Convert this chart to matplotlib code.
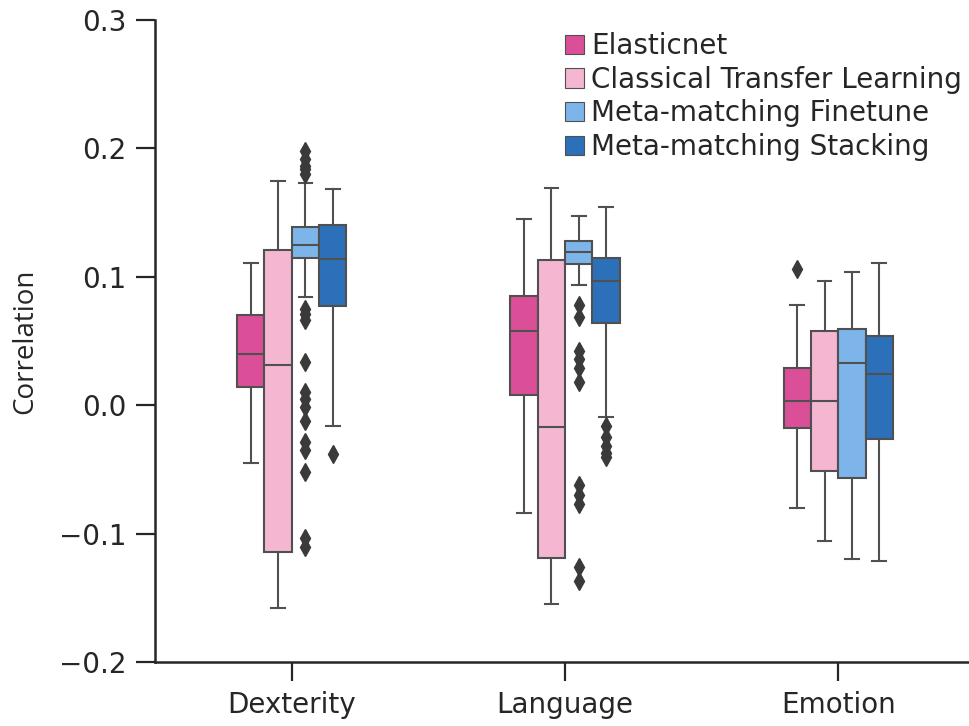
import numpy as np
import matplotlib
matplotlib.use("Agg")
import matplotlib.pyplot as plt
from matplotlib.patches import Patch

# behaviour domains on the x axis and the four prediction approaches
domains = ["Dexterity", "Language", "Emotion"]
models = ["Elasticnet", "Classical Transfer Learning",
          "Meta-matching Finetune", "Meta-matching Stacking"]
colors = ["#DA4F98", "#F4B6D1", "#7DB5EB", "#2C70B9"]

# box statistics, one row per model, one column per domain
whis_lo = [[-0.045, -0.084, -0.080],
           [-0.158, -0.155, -0.106],
           [0.084, 0.094, -0.120],
           [-0.016, -0.009, -0.121]]
q1 = [[0.014, 0.008, -0.018],
      [-0.114, -0.119, -0.051],
      [0.115, 0.110, -0.057],
      [0.077, 0.064, -0.026]]
med = [[0.040, 0.058, 0.003],
       [0.031, -0.017, 0.003],
       [0.125, 0.119, 0.033],
       [0.114, 0.097, 0.024]]
q3 = [[0.070, 0.085, 0.029],
      [0.121, 0.113, 0.058],
      [0.139, 0.128, 0.059],
      [0.140, 0.115, 0.054]]
whis_hi = [[0.111, 0.145, 0.078],
           [0.175, 0.169, 0.097],
           [0.173, 0.147, 0.104],
           [0.168, 0.154, 0.111]]
fliers = [
    [[], [], [0.106]],
    [[], [], []],
    [[0.198, 0.192, 0.186, 0.184, 0.180, 0.075, 0.071, 0.066, 0.034,
      0.010, 0.005, -0.001, -0.012, -0.029, -0.035, -0.052, -0.103, -0.110],
     [0.078, 0.069, 0.042, 0.036, 0.029, 0.018, -0.062, -0.070, -0.077,
      -0.126, -0.137],
     []],
    [[-0.038], [-0.016, -0.025, -0.032, -0.037, -0.040], []],
]

box_w = 0.1
offsets = [-0.15, -0.05, 0.05, 0.15]
edge = "#505050"
ink = "#262626"

plt.rcParams["font.family"] = "DejaVu Sans"
fig = plt.figure(figsize=(9.7, 7.26), dpi=100)
ax = fig.add_axes([0.16, 0.088, 0.845, 0.8845])

for m in range(len(models)):
    stats = []
    for g in range(len(domains)):
        stats.append(dict(whislo=whis_lo[m][g], q1=q1[m][g], med=med[m][g],
                          q3=q3[m][g], whishi=whis_hi[m][g],
                          fliers=fliers[m][g]))
    pos = np.arange(len(domains)) + offsets[m]
    ax.bxp(stats, positions=pos, widths=box_w, patch_artist=True,
           manage_ticks=False,
           boxprops=dict(facecolor=colors[m], edgecolor=edge, linewidth=1.5),
           medianprops=dict(color=edge, linewidth=1.5),
           whiskerprops=dict(color=edge, linewidth=1.5),
           capprops=dict(color=edge, linewidth=1.5),
           flierprops=dict(marker="d", markersize=9, markerfacecolor="#3a3a3a",
                           markeredgecolor="#3a3a3a"))

ax.set_xlim(-0.5, 2.5)
ax.set_ylim(-0.2, 0.3)
ax.set_xticks(range(len(domains)))
ax.set_xticklabels(domains)
ax.set_yticks([-0.2, -0.1, 0.0, 0.1, 0.2, 0.3])
ax.set_yticklabels(["\u22120.2", "\u22120.1", "0.0", "0.1", "0.2", "0.3"])
ax.tick_params(labelsize=20, length=14, width=1.6, color=ink,
               labelcolor=ink, pad=7)
ax.set_ylabel("Correlation", fontsize=20, family="Open Sans",
              color=ink, labelpad=14)
for side in ["top", "right"]:
    ax.spines[side].set_visible(False)
for side in ["left", "bottom"]:
    ax.spines[side].set_linewidth(1.8)
    ax.spines[side].set_color(ink)

handles = [Patch(facecolor=c, edgecolor=edge, linewidth=0.8) for c in colors]
leg = ax.legend(handles, models, loc="upper left",
                bbox_to_anchor=(0.486, 0.998), frameon=False, fontsize=20,
                handlelength=0.7, handleheight=0.7, handletextpad=0.25,
                labelspacing=0.2, borderaxespad=0)
for t in leg.get_texts():
    t.set_color(ink)

fig.savefig("out.png", dpi=100)
